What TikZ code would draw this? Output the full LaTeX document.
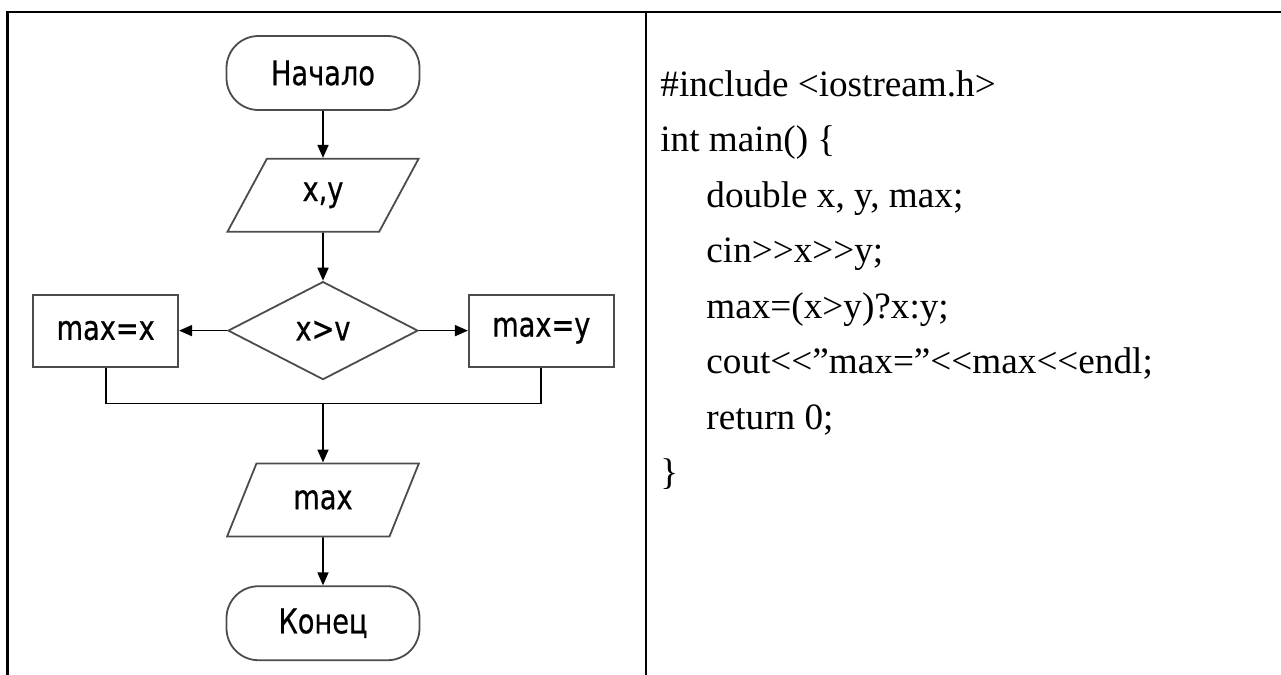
\documentclass[tikz,border=0pt]{standalone}
\usepackage{fontspec}
\newfontfamily\codefont{Liberation Serif}
\newfontfamily\flowfont[FakeStretch=0.8,FakeBold=0.6]{DejaVu Sans}
\usetikzlibrary{arrows.meta,shapes.geometric}
\usetikzlibrary{positioning}
\tikzstyle{shapeline} = [draw=black!70, line width=0.9pt, text=black, font=\flowfont\fontsize{17}{20}\selectfont]
\tikzstyle{terminal} = [rectangle, rounded corners=16pt, minimum width=96.5pt, minimum height=37pt, text centered, shapeline]
\tikzstyle{io} = [trapezium, trapezium left angle=64, trapezium right angle=116, trapezium stretches=true, minimum width=96pt, minimum height=36.5pt, text centered, shapeline]
\tikzstyle{decision} = [diamond, aspect=2, minimum width=95pt, minimum height=49pt, inner sep=0pt, text centered, shapeline]
\tikzstyle{process} = [rectangle, minimum width=72.5pt, minimum height=36pt, text centered, shapeline]
\tikzstyle{flowline} = [draw=black, line width=0.85pt, -{Triangle[length=6.5pt,width=5.5pt]}]
\tikzstyle{joinline} = [draw=black, line width=0.85pt]
\tikzstyle{codeline} = [anchor=base west, inner sep=0pt, font=\codefont\fontsize{18.6}{22}\selectfont]
\tikzstyle{tableline} = [draw=black, line width=1.3pt]

\begin{document}
\begin{tikzpicture}[x=0.5pt, y=-0.5pt, node distance=24pt]
\useasboundingbox (0,0) rectangle (1281,675);

% table frame
\draw[tableline] (7.5,675) |- (1281,12);
\draw[tableline] (646,12) -- (646,675);

% flowchart
\node (start) [terminal] at (323,73) {Начало};
\node (inp) [io, below=23.5pt of start] {x,y};
\node (dec) [decision, below=24pt of inp] {x>v};
\node (maxx) [process, left=24pt of dec] {max=x};
\node (maxy) [process, right=24.5pt of dec] {max=y};
\coordinate [below=11.5pt of dec] (merge);
\node (outp) [io, below=41pt of dec] {max};
\node (stop) [terminal, below=24pt of outp] {Конец};

\draw[flowline] (start) -- (inp);
\draw[flowline] (inp) -- (dec);
\draw[flowline] (dec) -- (maxx);
\draw[flowline] (dec) -- (maxy);
\draw[joinline] (maxx.south) |- (merge) -| (maxy.south);
\draw[flowline] (merge) -- (outp);
\draw[flowline] (outp) -- (stop);

% program text
\foreach \ind/\txt [count=\i] in {0/{\#include <iostream.h>}, 0/{int main() \{}, 1/{double x, y, max;}, 1/{cin>>x>>y;}, 1/{max=(x>y)?x:y;}, 1/{cout<<”max=”<<max<<endl;}, 1/{return 0;}, 0/{\}}}
  \node (line\i) [codeline] at ({660+\ind*46}, {96+(\i-1)*55.5}) {\txt};

\end{tikzpicture}
\end{document}
